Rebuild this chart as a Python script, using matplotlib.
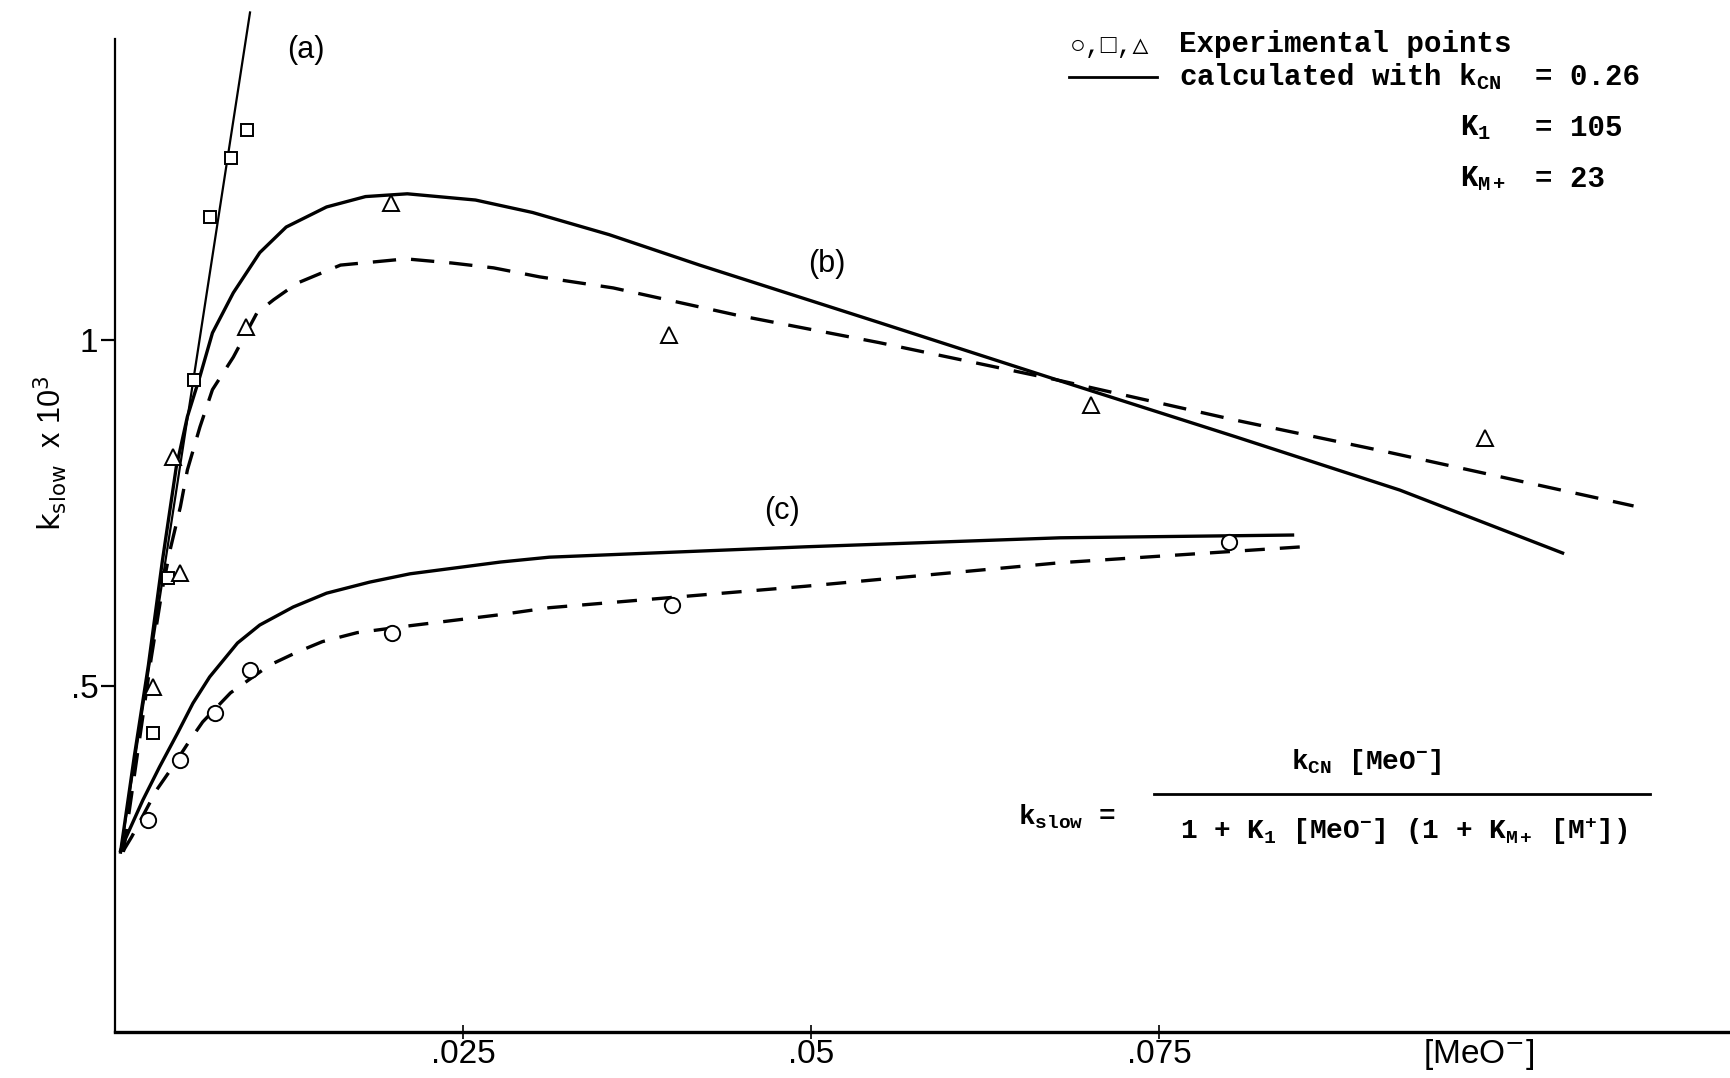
import matplotlib

matplotlib.use("Agg")
import matplotlib.pyplot as plt
from matplotlib.lines import Line2D

W, H = 1731, 1078

# curve (a): straight line through the square points
xa = [0.0004, 0.0097]
ya = [0.26, 1.473]

# curve (b)
xb_calc = [0.0004, 0.0014, 0.0024, 0.0034, 0.0044, 0.0052, 0.0061, 0.0070,
           0.0085, 0.0104, 0.0123, 0.0152, 0.0180, 0.0210, 0.0259, 0.0300,
           0.0355, 0.0420, 0.0549, 0.0677, 0.0805, 0.0923, 0.1040]
yb_calc = [0.26, 0.40, 0.53, 0.68, 0.816, 0.889, 0.947, 1.010,
           1.068, 1.126, 1.163, 1.192, 1.207, 1.211, 1.202, 1.184,
           1.152, 1.108, 1.025, 0.942, 0.860, 0.783, 0.692]
xb_dash = [0.0006, 0.0016, 0.0026, 0.0034, 0.0040, 0.0047, 0.0052, 0.0061,
           0.0070, 0.0085, 0.0102, 0.0114, 0.0131, 0.0162, 0.0209, 0.0242,
           0.0272, 0.0305, 0.0358, 0.0446, 0.0549, 0.0677, 0.0805, 0.0914,
           0.1091]
yb_dash = [0.26, 0.40, 0.54, 0.64, 0.70, 0.759, 0.812, 0.874,
           0.928, 0.975, 1.039, 1.058, 1.082, 1.108, 1.117, 1.111,
           1.104, 1.091, 1.075, 1.036, 0.996, 0.942, 0.884, 0.838,
           0.760]

# curve (c)
xc_calc = [0.0004, 0.0007, 0.0020, 0.0032, 0.0045, 0.0056, 0.0068, 0.0088,
           0.0104, 0.0128, 0.0152, 0.0183, 0.0212, 0.0277, 0.0312, 0.0496,
           0.0679, 0.0846]
yc_calc = [0.262, 0.277, 0.335, 0.383, 0.432, 0.475, 0.513, 0.562,
           0.588, 0.614, 0.634, 0.650, 0.662, 0.679, 0.686, 0.701,
           0.714, 0.718]
xc_dash = [0.0006, 0.0012, 0.0030, 0.0040, 0.0054, 0.0063, 0.0083, 0.0111,
           0.0131, 0.0149, 0.0174, 0.0212, 0.0277, 0.0312, 0.0496, 0.0679,
           0.0853]
yc_dash = [0.262, 0.282, 0.350, 0.379, 0.422, 0.448, 0.490, 0.530,
           0.549, 0.564, 0.577, 0.587, 0.603, 0.613, 0.644, 0.678,
           0.701]

# experimental points
x_sq = [0.0027, 0.0038, 0.0057, 0.0068, 0.0083, 0.0095]
y_sq = [0.432, 0.656, 0.942, 1.178, 1.263, 1.303]
x_tri = [0.0027, 0.0047, 0.0042, 0.0094, 0.0198, 0.0398, 0.0701, 0.0984]
y_tri = [0.499, 0.663, 0.831, 1.018, 1.198, 1.007, 0.906, 0.858]
x_circ = [0.0024, 0.0047, 0.0072, 0.0097, 0.0199, 0.0400, 0.0800]
y_circ = [0.306, 0.393, 0.461, 0.523, 0.577, 0.617, 0.708]

xticks = [0.025, 0.05, 0.075]
xtick_labels = [".025", ".05", ".075"]
yticks = [0.5, 1.0]
ytick_labels = [".5", "1"]

plt.rcParams["mathtext.fontset"] = "custom"
plt.rcParams["mathtext.rm"] = "Liberation Mono"
plt.rcParams["mathtext.it"] = "Liberation Mono"
plt.rcParams["mathtext.bf"] = "Liberation Mono:bold"
plt.rcParams["mathtext.sf"] = "DejaVu Sans"

MONO = ["Liberation Mono", "DejaVu Sans Mono", "DejaVu Sans"]
SANS = ["Liberation Sans Narrow", "Liberation Sans", "DejaVu Sans"]


def fx(px):
    return px / W


def fy(py):
    return 1 - py / H


fig = plt.figure(figsize=(W / 100, H / 100), dpi=100)
ax = fig.add_axes([fx(115), fy(1032), 1 - fx(115), 1032 / H])
ax.set_xlim(0, 0.1161)
ax.set_ylim(0, 1.491)

for s in ("top", "right"):
    ax.spines[s].set_visible(False)
ax.spines["left"].set_bounds(0, 1.435)
ax.spines["left"].set_linewidth(1.6)
ax.spines["bottom"].set_linewidth(2.4)

ax.set_xticks(xticks)
ax.set_xticklabels(xtick_labels, family=SANS, fontsize=24)
ax.set_yticks(yticks)
ax.set_yticklabels(ytick_labels, family=SANS, fontsize=24)
ax.tick_params(axis="x", direction="inout", length=10, width=1.2, pad=0)
ax.tick_params(axis="y", direction="out", length=10, width=1.6, pad=2)

lw = 2.4
ax.plot(xa, ya, color="black", lw=1.6)
ax.plot(xb_calc, yb_calc, color="black", lw=lw)
ax.plot(xb_dash, yb_dash, color="black", lw=lw, dashes=(7, 4.5))
ax.plot(xc_calc, yc_calc, color="black", lw=lw)
ax.plot(xc_dash, yc_dash, color="black", lw=lw, dashes=(6, 4.5))

mk = dict(ls="none", mfc="white", mec="black", mew=1.4, zorder=4)
ax.plot(x_sq, y_sq, marker="s", ms=9, **mk)
ax.plot(x_tri, y_tri, marker="^", ms=11, **mk)
ax.plot(x_circ, y_circ, marker="o", ms=11, **mk)

# curve labels
for txt, px, py in [("(a)", 306, 50), ("(b)", 827, 264), ("(c)", 782, 511)]:
    fig.text(fx(px), fy(py), txt, fontsize=22, family=SANS,
             ha="center", va="center")

# axis labels
fig.text(fx(50), fy(453), r"$\mathsf{k_{slow}}$  x 10$^{\mathsf{3}}$",
         rotation=90, fontsize=22, family=SANS, ha="center", va="center")
fig.text(fx(1479), fy(1054), "[MeO$^{\\mathsf{-}}$]", fontsize=24,
         family=SANS, ha="center", va="center")

# key
fig.text(fx(1110), fy(46), "○,□,△", fontsize=19, family=MONO,
         ha="center", va="center")
fig.add_artist(Line2D([fx(1069), fx(1157)], [fy(77), fy(77)],
                      color="black", lw=2))
fig.text(fx(1179), fy(44), "Experimental points", fontsize=21,
         family=MONO, weight="bold", ha="left", va="center")
fig.text(fx(1179), fy(77), "calculated with k$_{\\mathbf{CN}}$",
         fontsize=21, family=MONO, weight="bold", ha="left", va="center")
fig.text(fx(1535), fy(77), "= 0.26", fontsize=21, family=MONO,
         weight="bold", ha="left", va="center")
fig.text(fx(1460), fy(128), "K$_{\\mathbf{1}}$", fontsize=21, family=MONO,
         weight="bold", ha="left", va="center")
fig.text(fx(1535), fy(128), "= 105", fontsize=21, family=MONO,
         weight="bold", ha="left", va="center")
fig.text(fx(1460), fy(179), "K$_{\\mathbf{M+}}$", fontsize=21, family=MONO,
         weight="bold", ha="left", va="center")
fig.text(fx(1535), fy(179), "= 23", fontsize=21, family=MONO,
         weight="bold", ha="left", va="center")

# rate law
fig.text(fx(1018), fy(817), "k$_{\\mathbf{slow}}$ =", fontsize=20,
         family=MONO, weight="bold", ha="left", va="center")
fig.text(fx(1366), fy(762), "k$_{\\mathbf{CN}}$ [MeO$^{\\mathbf{-}}$]",
         fontsize=20, family=MONO, weight="bold", ha="center", va="center")
fig.add_artist(Line2D([fx(1154), fx(1650)], [fy(794), fy(794)],
                      color="black", lw=2))
fig.text(fx(1404), fy(831),
         "1 + K$_{\\mathbf{1}}$ [MeO$^{\\mathbf{-}}$] "
         "(1 + K$_{\\mathbf{M+}}$ [M$^{\\mathbf{+}}$])",
         fontsize=20, family=MONO, weight="bold", ha="center", va="center")

fig.savefig("out.png", dpi=100)
